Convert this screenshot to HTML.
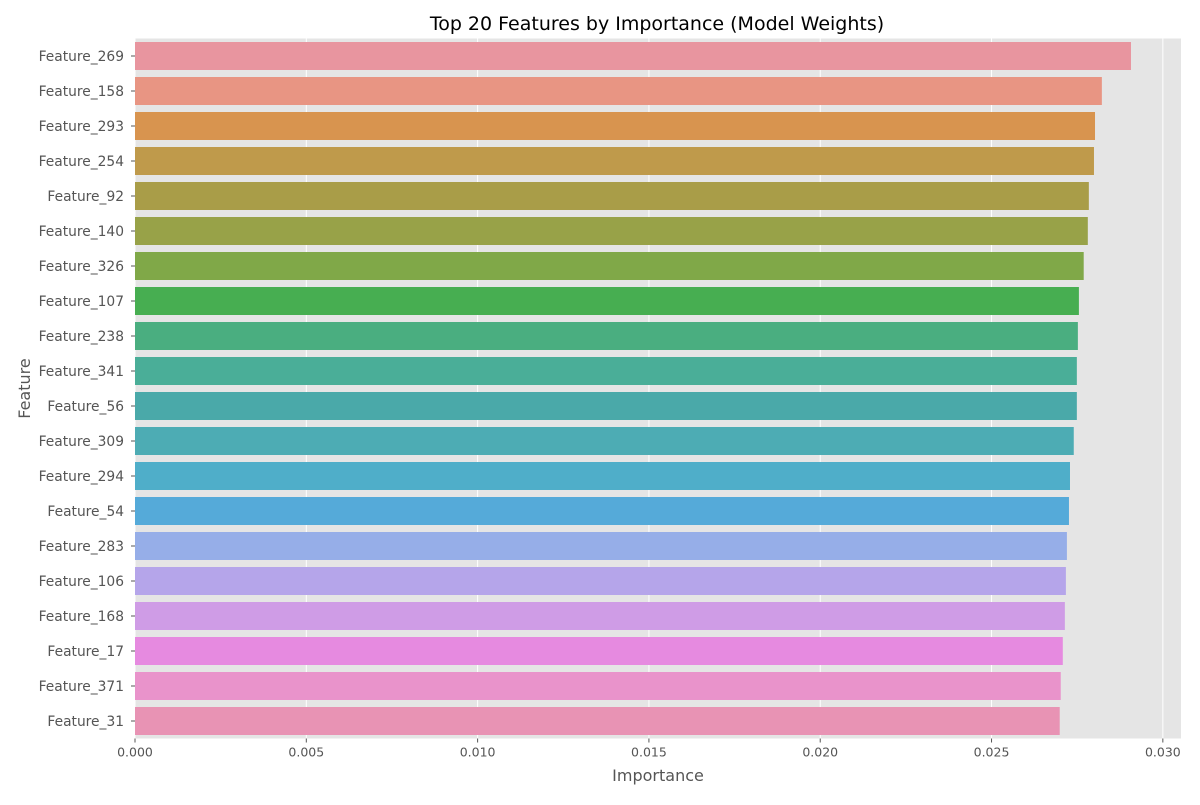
<!DOCTYPE html>
<html><head><meta charset="utf-8"><style>
body{margin:0;background:#fff;}
svg text{font-family:"DejaVu Sans","Liberation Sans",sans-serif;}
</style></head><body>
<svg id="chart" width="1200" height="800"></svg>
<script>
const features=["Feature_269","Feature_158","Feature_293","Feature_254","Feature_92","Feature_140","Feature_326","Feature_107","Feature_238","Feature_341","Feature_56","Feature_309","Feature_294","Feature_54","Feature_283","Feature_106","Feature_168","Feature_17","Feature_371","Feature_31"];
const importance=[0.02907,0.02822,0.02802,0.02799,0.02784,0.02781,0.02769,0.02755,0.02752,0.02749,0.02749,0.02740,0.02729,0.02726,0.02720,0.02717,0.02714,0.02708,0.02702,0.02699];
const colors=["#e8959f","#e89583","#d8944f","#bf9a4b","#a99d48","#98a248","#80a848","#47ae51","#4aae80","#4aae98","#4aa9a9","#4dacb4","#4faec9","#55aad9","#96aee8","#b5a5ea","#cf9ce6","#e68ae0","#e993cb","#e893b4"];
const xTicks=[0,0.005,0.010,0.015,0.020,0.025,0.030];
const xTickLabels=["0.000","0.005","0.010","0.015","0.020","0.025","0.030"];

const NS="http://www.w3.org/2000/svg";
const svg=document.getElementById('chart');
const L=135,R=1181,T=38.5,B=738.5,xMax=0.03053;
const x=v=>L+v/xMax*(R-L);
const band=(B-T)/features.length;
const y=i=>T+i*band;
function mk(tag,attrs,parent){const e=document.createElementNS(NS,tag);for(const k in attrs)e.setAttribute(k,attrs[k]);(parent||svg).appendChild(e);return e;}

const bg=mk('rect',{x:L,y:T,width:R-L,height:B-T,fill:'#e5e5e5'});



xTicks.forEach((t,i)=>{
  const g=mk('line',{x1:x(t),x2:x(t),y1:T,y2:B,stroke:'#fff','stroke-width':1});
  
  
  const tk=mk('line',{x1:x(t),x2:x(t),y1:B,y2:B+4,stroke:'#555'});
  
  
  const lb=mk('text',{x:x(t),y:B+18,'text-anchor':'middle','font-size':12.5,fill:'#555'});
  lb.textContent=xTickLabels[i];
  
  
});

features.forEach((f,i)=>{
  const cy=y(i)+band/2;
  const bh=band*0.8;
  const r=mk('rect',{x:x(0),y:cy-bh/2,width:x(importance[i])-x(0),height:bh,fill:colors[i]});
  
  
  const tk=mk('line',{x1:L-4,x2:L,y1:cy,y2:cy,stroke:'#555'});
  
  
  const lb=mk('text',{x:L-11,y:cy+4.8,'text-anchor':'end','font-size':13.8,fill:'#555'});
  lb.textContent=f;
  
  
});

const title=mk('text',{x:(L+R)/2-1,y:30,'text-anchor':'middle','font-size':19,fill:'#000'});
title.textContent="Top 20 Features by Importance (Model Weights)";



const xl=mk('text',{x:(L+R)/2,y:781,'text-anchor':'middle','font-size':16,fill:'#555'});
xl.textContent="Importance";



const yl=mk('text',{x:30,y:(T+B)/2,'text-anchor':'middle','font-size':16,fill:'#555',transform:`rotate(-90 30 ${(T+B)/2})`});
yl.textContent="Feature";


</script>
</body></html>
